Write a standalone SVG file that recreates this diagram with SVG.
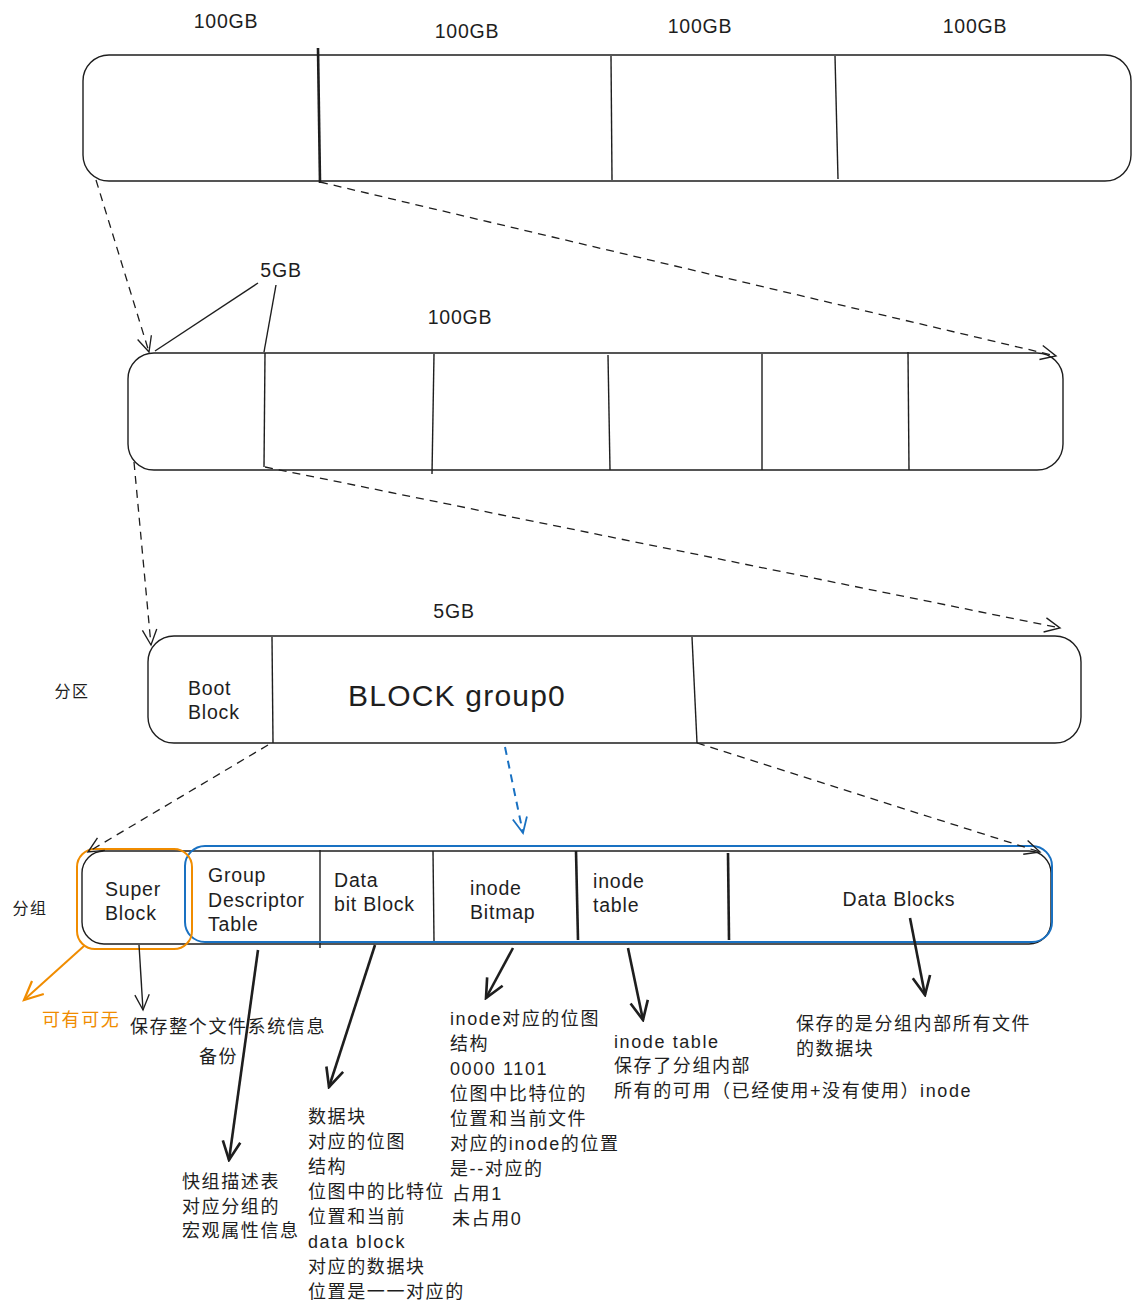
<svg xmlns="http://www.w3.org/2000/svg" width="1141" height="1316" viewBox="0 0 1141 1316">
<style>
text{font-family:"Liberation Sans","Noto Sans CJK SC",sans-serif;fill:#1e1e1e}
.lbl{font-size:19.5px;letter-spacing:0.8px}
.cn{font-size:18px;letter-spacing:1.6px}
.box{fill:#fff;stroke:#1e1e1e;stroke-width:1.4}
.div{stroke:#1e1e1e;stroke-width:1.4;fill:none}
.divb{stroke:#1e1e1e;stroke-width:2.6;fill:none}
.dash{stroke:#1e1e1e;stroke-width:1.3;fill:none;stroke-dasharray:8 6}
.line{stroke:#1e1e1e;stroke-width:1.4;fill:none}
.thick{stroke:#1e1e1e;stroke-width:2.6;fill:none}
</style>
<defs>
<marker id="ah" viewBox="0 0 20 20" refX="18" refY="10" markerWidth="18" markerHeight="18" markerUnits="userSpaceOnUse" orient="auto"><path d="M1,2 L18,10 L1,18" fill="none" stroke="#1e1e1e" stroke-width="1.5"/></marker>
<marker id="ahk" viewBox="0 0 20 20" refX="18" refY="10" markerWidth="22" markerHeight="22" markerUnits="userSpaceOnUse" orient="auto"><path d="M1,2 L18,10 L1,18" fill="none" stroke="#1e1e1e" stroke-width="2.4"/></marker>
<marker id="ahb" viewBox="0 0 20 20" refX="18" refY="10" markerWidth="18" markerHeight="18" markerUnits="userSpaceOnUse" orient="auto"><path d="M1,2 L18,10 L1,18" fill="none" stroke="#1971c2" stroke-width="2"/></marker>
<marker id="aho" viewBox="0 0 20 20" refX="18" refY="10" markerWidth="22" markerHeight="22" markerUnits="userSpaceOnUse" orient="auto"><path d="M1,2 L18,10 L1,18" fill="none" stroke="#f08c00" stroke-width="2"/></marker>
</defs>

<g id="disk">
<rect class="box" x="83" y="55" width="1048" height="126" rx="26"/>
<line class="divb" x1="318" y1="48" x2="320" y2="183"/>
<line class="div" x1="611" y1="56" x2="612" y2="180"/>
<line class="div" x1="835" y1="56" x2="838" y2="179"/>
<text class="lbl" x="226" y="28" text-anchor="middle">100GB</text>
<text class="lbl" x="467" y="38" text-anchor="middle">100GB</text>
<text class="lbl" x="700" y="33" text-anchor="middle">100GB</text>
<text class="lbl" x="975" y="33" text-anchor="middle">100GB</text>
</g>

<g id="partition100">
<rect class="box" x="128" y="353" width="935" height="117" rx="26"/>
<line class="div" x1="265" y1="353" x2="264" y2="467"/>
<line class="div" x1="434" y1="354" x2="432" y2="474"/>
<line class="div" x1="608" y1="355" x2="610" y2="470"/>
<line class="div" x1="762" y1="354" x2="762" y2="470"/>
<line class="div" x1="908" y1="352" x2="909" y2="470"/>
<text class="lbl" x="460" y="324" text-anchor="middle">100GB</text>
<text class="lbl" x="281" y="277" text-anchor="middle">5GB</text>
</g>

<g id="partition5">
<rect class="box" x="148" y="636" width="933" height="107" rx="26"/>
<line class="div" x1="272" y1="637" x2="273" y2="743"/>
<line class="div" x1="692" y1="637" x2="697" y2="743"/>
<text class="lbl" x="454" y="618" text-anchor="middle">5GB</text>
<text class="lbl" x="188" y="695">Boot</text>
<text class="lbl" x="188" y="719">Block</text>
<text x="457" y="706" text-anchor="middle" style="font-size:30px;letter-spacing:1.2px">BLOCK group0</text>
<text class="cn" x="72" y="697" text-anchor="middle" style="font-size:16px">分区</text>
</g>

<g id="group">
<rect class="box" x="82" y="851" width="969" height="93" rx="22"/>
<line class="div" x1="320" y1="850" x2="320" y2="948"/>
<line class="div" x1="433" y1="851" x2="434" y2="941"/>
<line class="divb" x1="576" y1="851" x2="578" y2="940"/>
<line class="divb" x1="728" y1="853" x2="729" y2="940"/>
<text class="lbl" x="105" y="896">Super</text>
<text class="lbl" x="105" y="920">Block</text>
<text class="lbl" x="208" y="882">Group</text>
<text class="lbl" x="208" y="907">Descriptor</text>
<text class="lbl" x="208" y="931">Table</text>
<text class="lbl" x="334" y="887">Data</text>
<text class="lbl" x="334" y="911">bit Block</text>
<text class="lbl" x="470" y="895">inode</text>
<text class="lbl" x="470" y="919">Bitmap</text>
<text class="lbl" x="593" y="888">inode</text>
<text class="lbl" x="593" y="912">table</text>
<text class="lbl" x="899" y="906" text-anchor="middle">Data Blocks</text>
<text class="cn" x="30" y="914" text-anchor="middle" style="font-size:16px">分组</text>
</g>

<g id="highlight-blue">
<rect x="185" y="846" width="867" height="96" rx="20" fill="none" stroke="#1971c2" stroke-width="2"/>
</g>
<g id="highlight-orange">
<rect x="77" y="849" width="115" height="100" rx="18" fill="none" stroke="#f08c00" stroke-width="2"/>
</g>

<g id="connectors">
<line class="dash" x1="96" y1="180" x2="149" y2="352" marker-end="url(#ah)"/>
<line class="dash" x1="320" y1="182" x2="1056" y2="356" marker-end="url(#ah)"/>
<line class="line" x1="258" y1="283" x2="155" y2="351"/>
<line class="line" x1="276" y1="285" x2="264" y2="352"/>
<line class="dash" x1="134" y1="462" x2="151" y2="645" marker-end="url(#ah)"/>
<line class="dash" x1="265" y1="467" x2="1060" y2="628" marker-end="url(#ah)"/>
<line class="dash" x1="268" y1="745" x2="88" y2="852" marker-end="url(#ah)"/>
<line class="dash" x1="697" y1="743" x2="1040" y2="852" marker-end="url(#ah)"/>
<line x1="505" y1="747" x2="523" y2="833" stroke="#1971c2" stroke-width="2" stroke-dasharray="8 6" marker-end="url(#ahb)"/>
<line x1="84" y1="946" x2="24" y2="1000" stroke="#f08c00" stroke-width="2" marker-end="url(#aho)"/>
<line class="line" x1="139" y1="945" x2="143" y2="1010" marker-end="url(#ah)"/>
<line class="thick" x1="258" y1="950" x2="229" y2="1160" marker-end="url(#ahk)"/>
<line class="thick" x1="375" y1="945" x2="329" y2="1087" marker-end="url(#ahk)"/>
<line class="thick" x1="513" y1="948" x2="486" y2="998" marker-end="url(#ahk)"/>
<line class="thick" x1="628" y1="948" x2="643" y2="1020" marker-end="url(#ahk)"/>
<line class="thick" x1="910" y1="918" x2="925" y2="995" marker-end="url(#ahk)"/>
</g>

<g id="notes">
<text class="cn" x="42" y="1026" style="fill:#f08c00">可有可无</text>
<text class="cn" x="130" y="1033">保存整个文件系统信息</text>
<text class="cn" x="199" y="1063">备份</text>
<text class="cn" x="182" y="1188">快组描述表</text>
<text class="cn" x="182" y="1213">对应分组的</text>
<text class="cn" x="182" y="1237">宏观属性信息</text>
<text class="cn" x="308" y="1123">数据块</text>
<text class="cn" x="308" y="1148">对应的位图</text>
<text class="cn" x="308" y="1173">结构</text>
<text class="cn" x="308" y="1198">位图中的比特位</text>
<text class="cn" x="308" y="1223">位置和当前</text>
<text class="cn" x="308" y="1248">data block</text>
<text class="cn" x="308" y="1273">对应的数据块</text>
<text class="cn" x="308" y="1298">位置是一一对应的</text>
<text class="cn" x="450" y="1025">inode对应的位图</text>
<text class="cn" x="450" y="1050">结构</text>
<text class="cn" x="450" y="1075">0000 1101</text>
<text class="cn" x="450" y="1100">位图中比特位的</text>
<text class="cn" x="450" y="1125">位置和当前文件</text>
<text class="cn" x="450" y="1150">对应的inode的位置</text>
<text class="cn" x="450" y="1175">是--对应的</text>
<text class="cn" x="452" y="1200">占用1</text>
<text class="cn" x="452" y="1225">未占用0</text>
<text class="cn" x="614" y="1048">inode table</text>
<text class="cn" x="614" y="1072">保存了分组内部</text>
<text class="cn" x="614" y="1097">所有的可用（已经使用+没有使用）inode</text>
<text class="cn" x="796" y="1030">保存的是分组内部所有文件</text>
<text class="cn" x="796" y="1055">的数据块</text>
</g>
</svg>
